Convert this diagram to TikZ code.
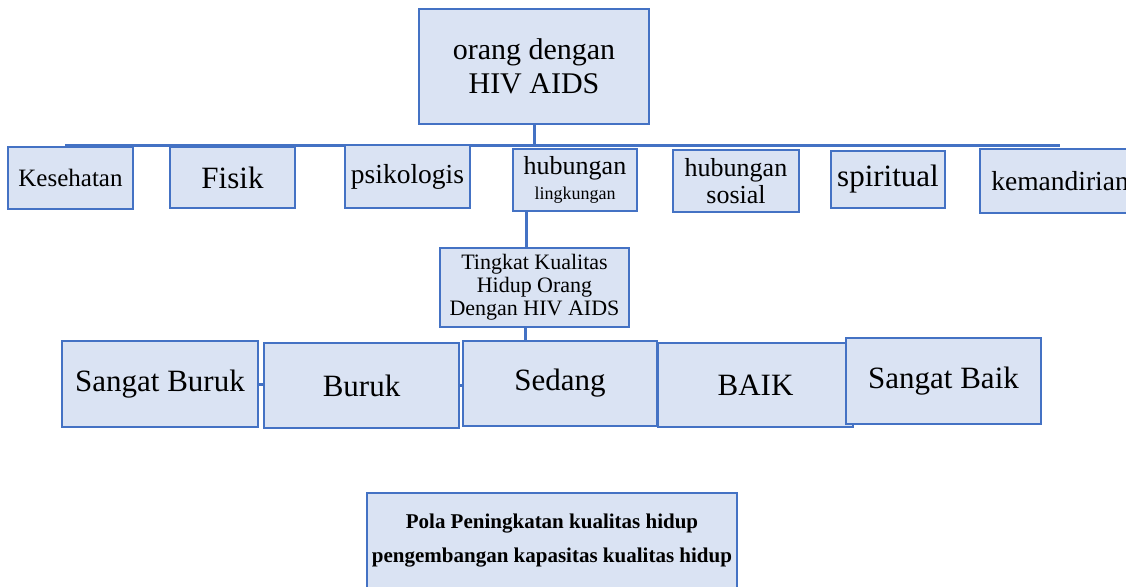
\documentclass[tikz,border=0pt]{standalone}
\usepackage{fontspec}
\setmainfont{Liberation Serif}
\usetikzlibrary{backgrounds}
\definecolor{bfill}{HTML}{DAE3F3}
\definecolor{bline}{HTML}{4472C4}
\begin{document}
\begin{tikzpicture}[x=1pt,y=-1pt,
  box/.style={draw=bline,fill=bfill,line width=2.5pt,inner sep=0pt,align=center},
  conn/.style={draw=bline,line width=3pt}]
\useasboundingbox (0,0) rectangle (1126,586);
\clip (0,0) rectangle (1126,586);
% top
\node[box,minimum width=230pt,minimum height=115pt,font=\fontsize{30}{34}\selectfont] (top) at (534,66.5) {orang dengan\\HIV AIDS};
% second row
\node[box,minimum width=125pt,minimum height=62pt,font=\fontsize{25}{28}\selectfont] (kes) at (70.5,178) {Kesehatan};
\node[box,minimum width=125pt,minimum height=61pt,font=\fontsize{31}{34}\selectfont] (fis) at (232.5,177.5) {Fisik};
\node[box,minimum width=125pt,minimum height=63pt,font=\fontsize{27.5}{30}\selectfont] (psi) at (407.5,176.5) {psikologis};
\node[box,minimum width=124pt,minimum height=62pt] (hl) at (575,180) {{\fontsize{26}{26}\selectfont hubungan}\\[6pt]{\fontsize{18}{20}\selectfont lingkungan}};
\node[box,minimum width=126pt,minimum height=62pt,font=\fontsize{26}{27}\selectfont] (hs) at (736,181) {hubungan\\sosial};
\node[box,minimum width=114pt,minimum height=57pt,font=\fontsize{31}{34}\selectfont] (spi) at (888,179.5) {spiritual};
\node[box,minimum width=160pt,minimum height=64pt,font=\fontsize{27.5}{30}\selectfont] (kem) at (1060,181) {kemandirian};
% middle
\node[box,minimum width=189pt,minimum height=79pt,font=\fontsize{22}{23}\selectfont] (tk) at (534.5,287.5) {Tingkat Kualitas\\Hidup Orang\\Dengan HIV AIDS};
% bottom row
\node[box,minimum width=196pt,minimum height=86pt,font=\fontsize{31}{34}\selectfont] (sb) at (160,384) {Sangat Buruk};
\node[box,minimum width=195pt,minimum height=85pt,font=\fontsize{31}{34}\selectfont] (bu) at (361.5,385.5) {Buruk};
\node[box,minimum width=194pt,minimum height=85pt,font=\fontsize{31}{34}\selectfont] (se) at (560,383.5) {Sedang};
\node[box,minimum width=195pt,minimum height=84pt,font=\fontsize{31}{34}\selectfont] (ba) at (755.5,385) {BAIK};
\node[box,minimum width=195pt,minimum height=86pt,font=\fontsize{31}{34}\selectfont] (sba) at (943.5,381) {Sangat Baik};
% pola
\node[box,minimum width=370pt,minimum height=95pt,font=\fontsize{21}{34}\selectfont\bfseries] (pola) at (552,540.5) {Pola Peningkatan kualitas hidup\\pengembangan kapasitas kualitas hidup};
% connectors
\coordinate (bl) at (65,145);
\coordinate (br) at (1060,145);
\coordinate (v1) at (526,0);
\coordinate (v2) at (525,0);
\begin{scope}[on background layer]
\draw[conn] (top.south) -- (top.south |- bl);
\draw[conn] (bl) -- (br);
\draw[conn] (hl.south -| v1) -- (tk.north -| v1);
\draw[conn] (tk.south -| v2) -- (se.north -| v2);
\draw[conn] (sb.east) -- (sb.east -| bu.west);
\draw[conn] (bu.east) -- (bu.east -| se.west);
\end{scope}
\end{tikzpicture}
\end{document}
